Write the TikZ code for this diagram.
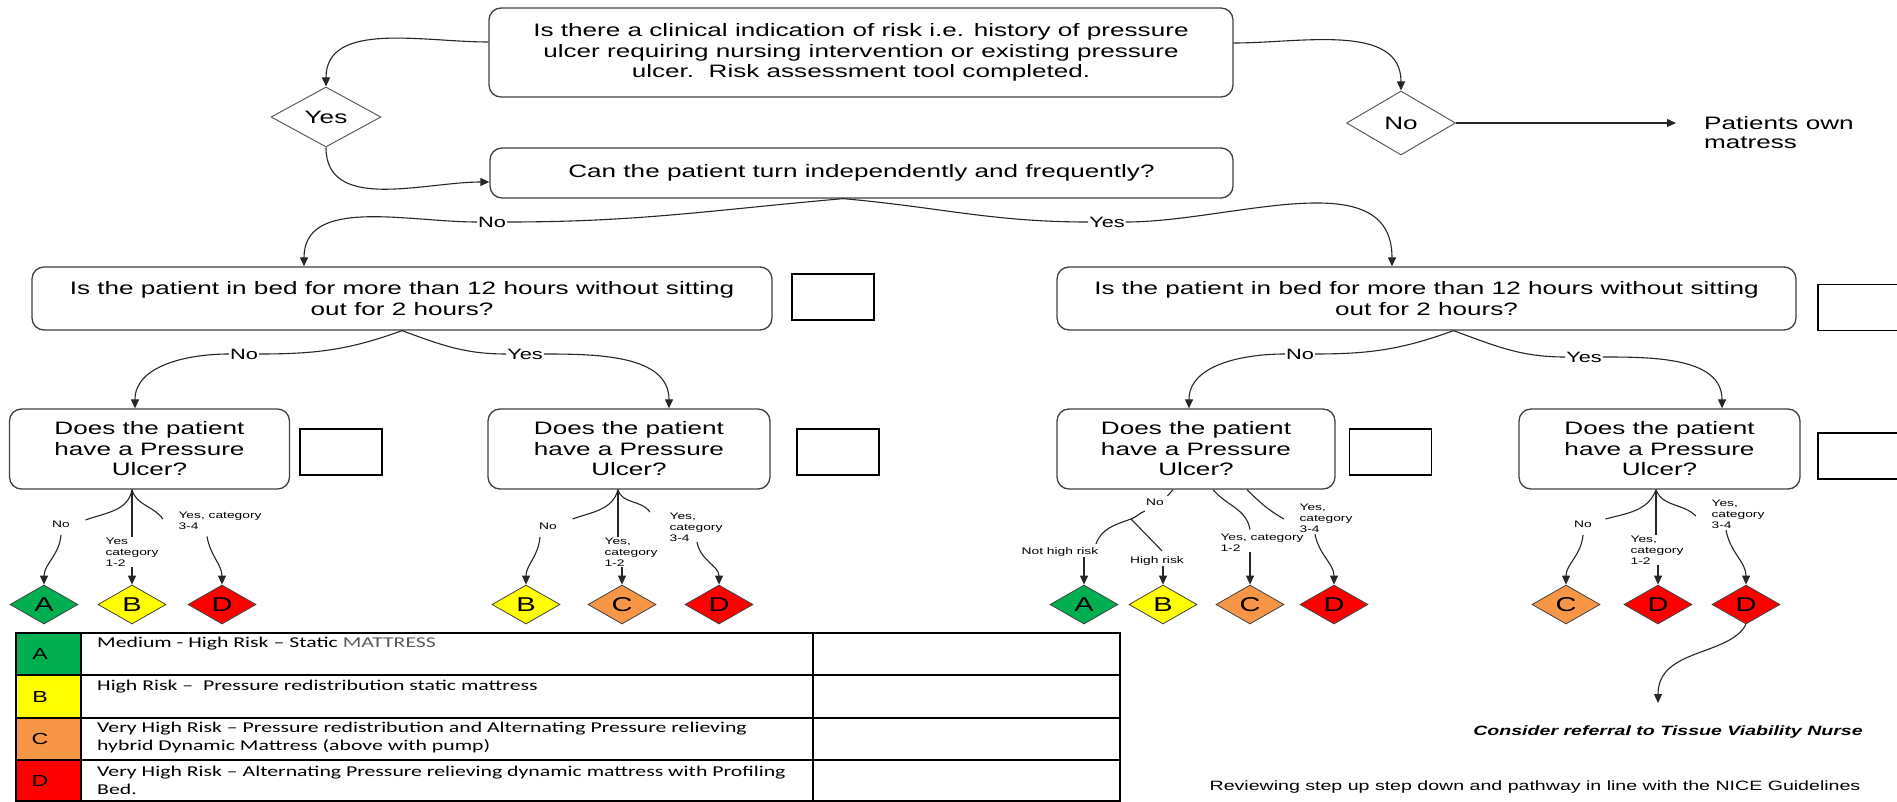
\documentclass[tikz,border=0pt]{standalone}
\usepackage{fontspec}
\setmainfont[FakeStretch=1.45,Ligatures=TeX]{Liberation Sans}
\newfontfamily\tabfont[FakeStretch=1.45,Ligatures=TeX]{Carlito}
\usetikzlibrary{shapes.geometric,arrows.meta}
\definecolor{cA}{HTML}{00B050}
\definecolor{cB}{HTML}{FFFF00}
\definecolor{cC}{HTML}{F79646}
\definecolor{cD}{HTML}{FF0000}
\definecolor{bordercol}{HTML}{404040}
\newcommand{\fs}[2]{\fontsize{#1}{#2}\selectfont}
\begin{document}
\begin{tikzpicture}[x=1pt,y=1pt,
  rbox/.style={draw=bordercol, line width=1.3pt, rounded corners=12pt, inner sep=0pt, align=center, font=\fs{18}{20.5}},
  sqbox/.style={draw=black, line width=1.2pt, inner sep=0pt, minimum width=82pt, minimum height=46pt},
  yndia/.style={diamond, draw=bordercol!85, line width=1pt, inner sep=0pt, font=\fs{18}{20}},
  cdia/.style={diamond, draw=bordercol, line width=0.8pt, inner sep=0pt, minimum width=68pt, minimum height=39pt, font=\fs{20}{22}},
  blbl/.style={inner sep=1pt, fill=white, font=\fs{15}{17}},
  slbl/.style={inner sep=0.5pt, align=left, font=\fs{9.5}{11}},
  conn/.style={line width=1.1pt, draw=black!85},
  arr/.style={conn, -{Triangle[length=9pt,width=8pt]}},
  tabtxt/.style={anchor=north west, align=left, inner sep=0pt, font=\tabfont\fs{15}{17.5}},
]
\useasboundingbox (0,0) rectangle (1897,-802);

% ---------- main boxes ----------
\node[rbox, minimum width=744pt, minimum height=89pt] (top) at (861,-52.5)
  {Is there a clinical indication of risk i.e. history of pressure\\ulcer requiring nursing intervention or existing pressure\\ulcer.\ \ Risk assessment tool completed.};
\node[yndia, minimum width=110pt, minimum height=60pt] (yes1) at (326,-117) {Yes};
\node[yndia, minimum width=109pt, minimum height=64pt] (no1) at (1401,-123) {No};
\node[anchor=north west, align=left, inner sep=0pt, font=\fs{18}{19.5}] (own) at (1704,-116) {Patients own\\matress};
\coordinate (ownArr) at (1676,-123);

\node[rbox, minimum width=743pt, minimum height=50pt] (can) at (861.5,-173) {Can the patient turn independently and frequently?};

\node[rbox, minimum width=740pt, minimum height=63pt] (bedL) at (402,-298.5) {Is the patient in bed for more than 12 hours without sitting\\out for 2 hours?};
\node[sqbox] (sqL) at (833,-297) {};
\node[rbox, minimum width=739pt, minimum height=63pt] (bedR) at (1426.5,-298.5) {Is the patient in bed for more than 12 hours without sitting\\out for 2 hours?};
\node[sqbox] (sqR) at (1859,-307.5) {};

\node[rbox, minimum width=280pt, minimum height=80pt] (pu1) at (149.5,-449) {Does the patient\\have a Pressure\\Ulcer?};
\node[sqbox] (sq1) at (341,-452) {};
\node[rbox, minimum width=282pt, minimum height=80pt] (pu2) at (629,-449) {Does the patient\\have a Pressure\\Ulcer?};
\node[sqbox] (sq2) at (838,-452) {};
\node[rbox, minimum width=278pt, minimum height=80pt] (pu3) at (1196,-449) {Does the patient\\have a Pressure\\Ulcer?};
\node[sqbox] (sq3) at (1390.5,-452) {};
\node[rbox, minimum width=281pt, minimum height=80pt] (pu4) at (1659.5,-449) {Does the patient\\have a Pressure\\Ulcer?};
\node[sqbox] (sq4) at (1859,-456) {};

% ---------- coloured outcome diamonds ----------
\node[cdia, fill=cA] (A1) at (44,-604.5) {A};
\node[cdia, fill=cB] (B1) at (132,-604.5) {B};
\node[cdia, fill=cD] (D1) at (222,-604.5) {D};
\node[cdia, fill=cB] (B2) at (526,-604.5) {B};
\node[cdia, fill=cC] (C2) at (622,-604.5) {C};
\node[cdia, fill=cD] (D2) at (719,-604.5) {D};
\node[cdia, fill=cA] (A3) at (1084,-604.5) {A};
\node[cdia, fill=cB] (B3) at (1163,-604.5) {B};
\node[cdia, fill=cC] (C3) at (1250,-604.5) {C};
\node[cdia, fill=cD] (D3) at (1334,-604.5) {D};
\node[cdia, fill=cC] (C4) at (1566,-604.5) {C};
\node[cdia, fill=cD] (D4a) at (1658,-604.5) {D};
\node[cdia, fill=cD] (D4b) at (1746,-604.5) {D};

% ---------- top connectors ----------
\draw[arr] ([yshift=10.5pt]top.west) to[out=180,in=90] (yes1.north);
\draw[arr] ([yshift=9.5pt]top.east) to[out=0,in=90] (no1.north);
\draw[arr] (no1.east) -- (ownArr);
\draw[arr] (yes1.south) to[out=-90,in=180] ([yshift=-9pt]can.west);

\coordinate (canB) at ([xshift=-18.5pt]can.south);
\node[blbl] (noA) at (492,-222) {No};
\node[blbl] (yesA) at (1107,-222) {Yes};
\draw[conn] (canB) to[out=185,in=0] (noA.east);
\draw[arr] (noA.west) to[out=180,in=90] ([xshift=-98pt]bedL.north);
\draw[conn] (canB) to[out=-5,in=180] (yesA.west);
\draw[arr] (yesA.east) to[out=0,in=90] ([xshift=-34.5pt]bedR.north);

% ---------- bed boxes to ulcer boxes ----------
\node[blbl] (noB) at (244,-354) {No};
\node[blbl] (yesB) at (525,-354) {Yes};
\draw[conn] (bedL.south) to[out=200,in=0] (noB.east);
\draw[arr] (noB.west) to[out=180,in=90] ([xshift=-14.5pt]pu1.north);
\draw[conn] (bedL.south) to[out=-20,in=180] (yesB.west);
\draw[arr] (yesB.east) to[out=0,in=90] ([xshift=40pt]pu2.north);

\coordinate (bRb) at ([xshift=27pt]bedR.south);
\node[blbl] (noC) at (1300,-354) {No};
\node[blbl] (yesC) at (1584,-357) {Yes};
\draw[conn] (bRb) to[out=200,in=0] (noC.east);
\draw[arr] (noC.west) to[out=180,in=90] ([xshift=-7pt]pu3.north);
\draw[conn] (bRb) to[out=-20,in=180] (yesC.west);
\draw[arr] (yesC.east) to[out=0,in=90] ([xshift=62.5pt]pu4.north);

% ---------- ulcer box 1 ----------
\coordinate (b1) at ([xshift=-17.5pt]pu1.south);
\node[slbl] (l1a) at (61,-524) {No};
\node[slbl] (l1b) at (132,-552) {Yes\\category\\1-2};
\node[slbl] (l1c) at (220,-521) {Yes, category\\3-4};
\draw[conn] (b1) to[out=-100,in=20] ([xshift=15pt,yshift=4pt]l1a.east);
\draw[arr] ([yshift=-7pt]l1a.south) to[out=-95,in=90] (A1.north);
\draw[conn] (b1) -- (b1 |- l1b.north);
\draw[arr] (l1b.south -| B1.north) -- (B1.north);
\draw[conn] (b1) to[out=-75,in=125] ([xshift=-15pt,yshift=2pt]l1c.west);
\draw[arr] ([xshift=-13pt,yshift=-6pt]l1c.south) to[out=-80,in=90] (D1.north);

% ---------- ulcer box 2 ----------
\coordinate (b2) at ([xshift=-11pt]pu2.south);
\node[slbl] (l2a) at (548,-526) {No};
\node[slbl] (l2b) at (631,-552) {Yes,\\category\\1-2};
\node[slbl] (l2c) at (696,-527) {Yes,\\category\\3-4};
\draw[conn] (b2) to[out=-105,in=20] ([xshift=15pt,yshift=7pt]l2a.east);
\draw[arr] ([xshift=-8pt,yshift=-7pt]l2a.south) to[out=-95,in=90] (B2.north);
\draw[conn] (b2) -- (b2 |- l2b.north);
\draw[arr] (l2b.south -| C2.north) -- (C2.north);
\draw[conn] (b2) to[out=-75,in=125] ([xshift=-19pt]l2c.north west);
\draw[arr] ([xshift=1pt]l2c.south) to[out=-80,in=90] (D2.north);

% ---------- ulcer box 3 ----------
\node[slbl] (noD) at (1155,-502) {No};
\coordinate (nT) at (1131,-519);
\node[slbl] (nhr) at (1060,-552) {Not high risk};
\node[slbl] (hr) at (1157,-561) {High risk};
\node[slbl] (l3c) at (1262,-543) {Yes, category\\1-2};
\node[slbl] (l3d) at (1326,-518) {Yes,\\category\\3-4};
\draw[conn] ([xshift=-23pt]pu3.south) -- ([xshift=3pt,yshift=2pt]noD.north east);
\draw[conn] ([xshift=-10pt,yshift=-5pt]noD.south) to[out=-160,in=20] (nT) to[out=200,in=70] ([xshift=-3pt,yshift=3pt]nhr.north east);
\draw[conn] (nT) -- ([xshift=5pt,yshift=5pt]hr.north);
\draw[arr] (nhr.south -| A3.north) -- (A3.north);
\draw[arr] (hr.south -| B3.north) -- (B3.north);
\draw[conn] ([xshift=17pt]pu3.south) to[out=-50,in=100] ([xshift=-12pt,yshift=4pt]l3c.north);
\draw[arr] (l3c.south -| C3.north) -- (C3.north);
\draw[conn] ([xshift=51pt]pu3.south) to[out=-45,in=150] ([xshift=-15pt,yshift=-1pt]l3d.west);
\draw[arr] ([xshift=-11pt,yshift=-1pt]l3d.south) to[out=-80,in=90] (D3.north);

% ---------- ulcer box 4 ----------
\coordinate (b4) at ([xshift=-3.5pt]pu4.south);
\node[slbl] (l4a) at (1583,-524) {No};
\node[slbl] (l4b) at (1657,-550) {Yes,\\category\\1-2};
\node[slbl] (l4c) at (1738,-514) {Yes,\\category\\3-4};
\draw[conn] (b4) to[out=-110,in=15] ([xshift=13pt,yshift=5pt]l4a.east);
\draw[arr] ([yshift=-7pt]l4a.south) to[out=-95,in=90] (C4.north);
\draw[conn] (b4) -- (b4 |- l4b.north);
\draw[arr] (l4b.south -| D4a.north) -- (D4a.north);
\draw[conn] (b4) to[out=-70,in=135] ([xshift=-15pt,yshift=-2pt]l4c.west);
\draw[arr] ([xshift=-12pt,yshift=-1pt]l4c.south) to[out=-80,in=90] (D4b.north);

% ---------- referral ----------
\coordinate (refArr) at (1658,-703);
\draw[arr] (D4b.south) .. controls +(-17,-32) and +(0,55) .. (refArr);
\node[font=\bfseries\itshape\fs{13.5}{15}] (ref) at (1668,-732) {Consider referral to Tissue Viability Nurse};
\node[font=\fs{13.5}{15}] (rev) at (1535,-787) {Reviewing step up step down and pathway in line with the NICE Guidelines};

% ---------- key table ----------
\fill[cA] (16,-633) rectangle (81,-675);
\fill[cB] (16,-675) rectangle (81,-718);
\fill[cC] (16,-718) rectangle (81,-760);
\fill[cD] (16,-760) rectangle (81,-801);
\draw[line width=1.2pt] (16,-633) rectangle (1120,-801);
\draw[line width=1.2pt] (16,-675) -- (1120,-675) (16,-718) -- (1120,-718) (16,-760) -- (1120,-760);
\draw[line width=1.2pt] (81,-633) -- (81,-801) (813,-633) -- (813,-801);
\node[font=\fs{16}{18}] (tA) at (40,-654) {A};
\node[font=\fs{16}{18}] (tB) at (40,-696.5) {B};
\node[font=\fs{16}{18}] (tC) at (40,-739) {C};
\node[font=\fs{16}{18}] (tD) at (40,-781) {D};
\node[tabtxt] (dA) at (97,-637) {Medium - High Risk – Static {\color{black!65}MATTRESS}};
\node[tabtxt] (dB) at (97,-680) {High Risk –\ \ Pressure redistribution static mattress};
\node[tabtxt] (dC) at (97,-722) {Very High Risk – Pressure redistribution and Alternating Pressure relieving\\hybrid Dynamic Mattress (above with pump)};
\node[tabtxt] (dD) at (97,-766) {Very High Risk – Alternating Pressure relieving dynamic mattress with Profiling\\Bed.};
\end{tikzpicture}
\end{document}
